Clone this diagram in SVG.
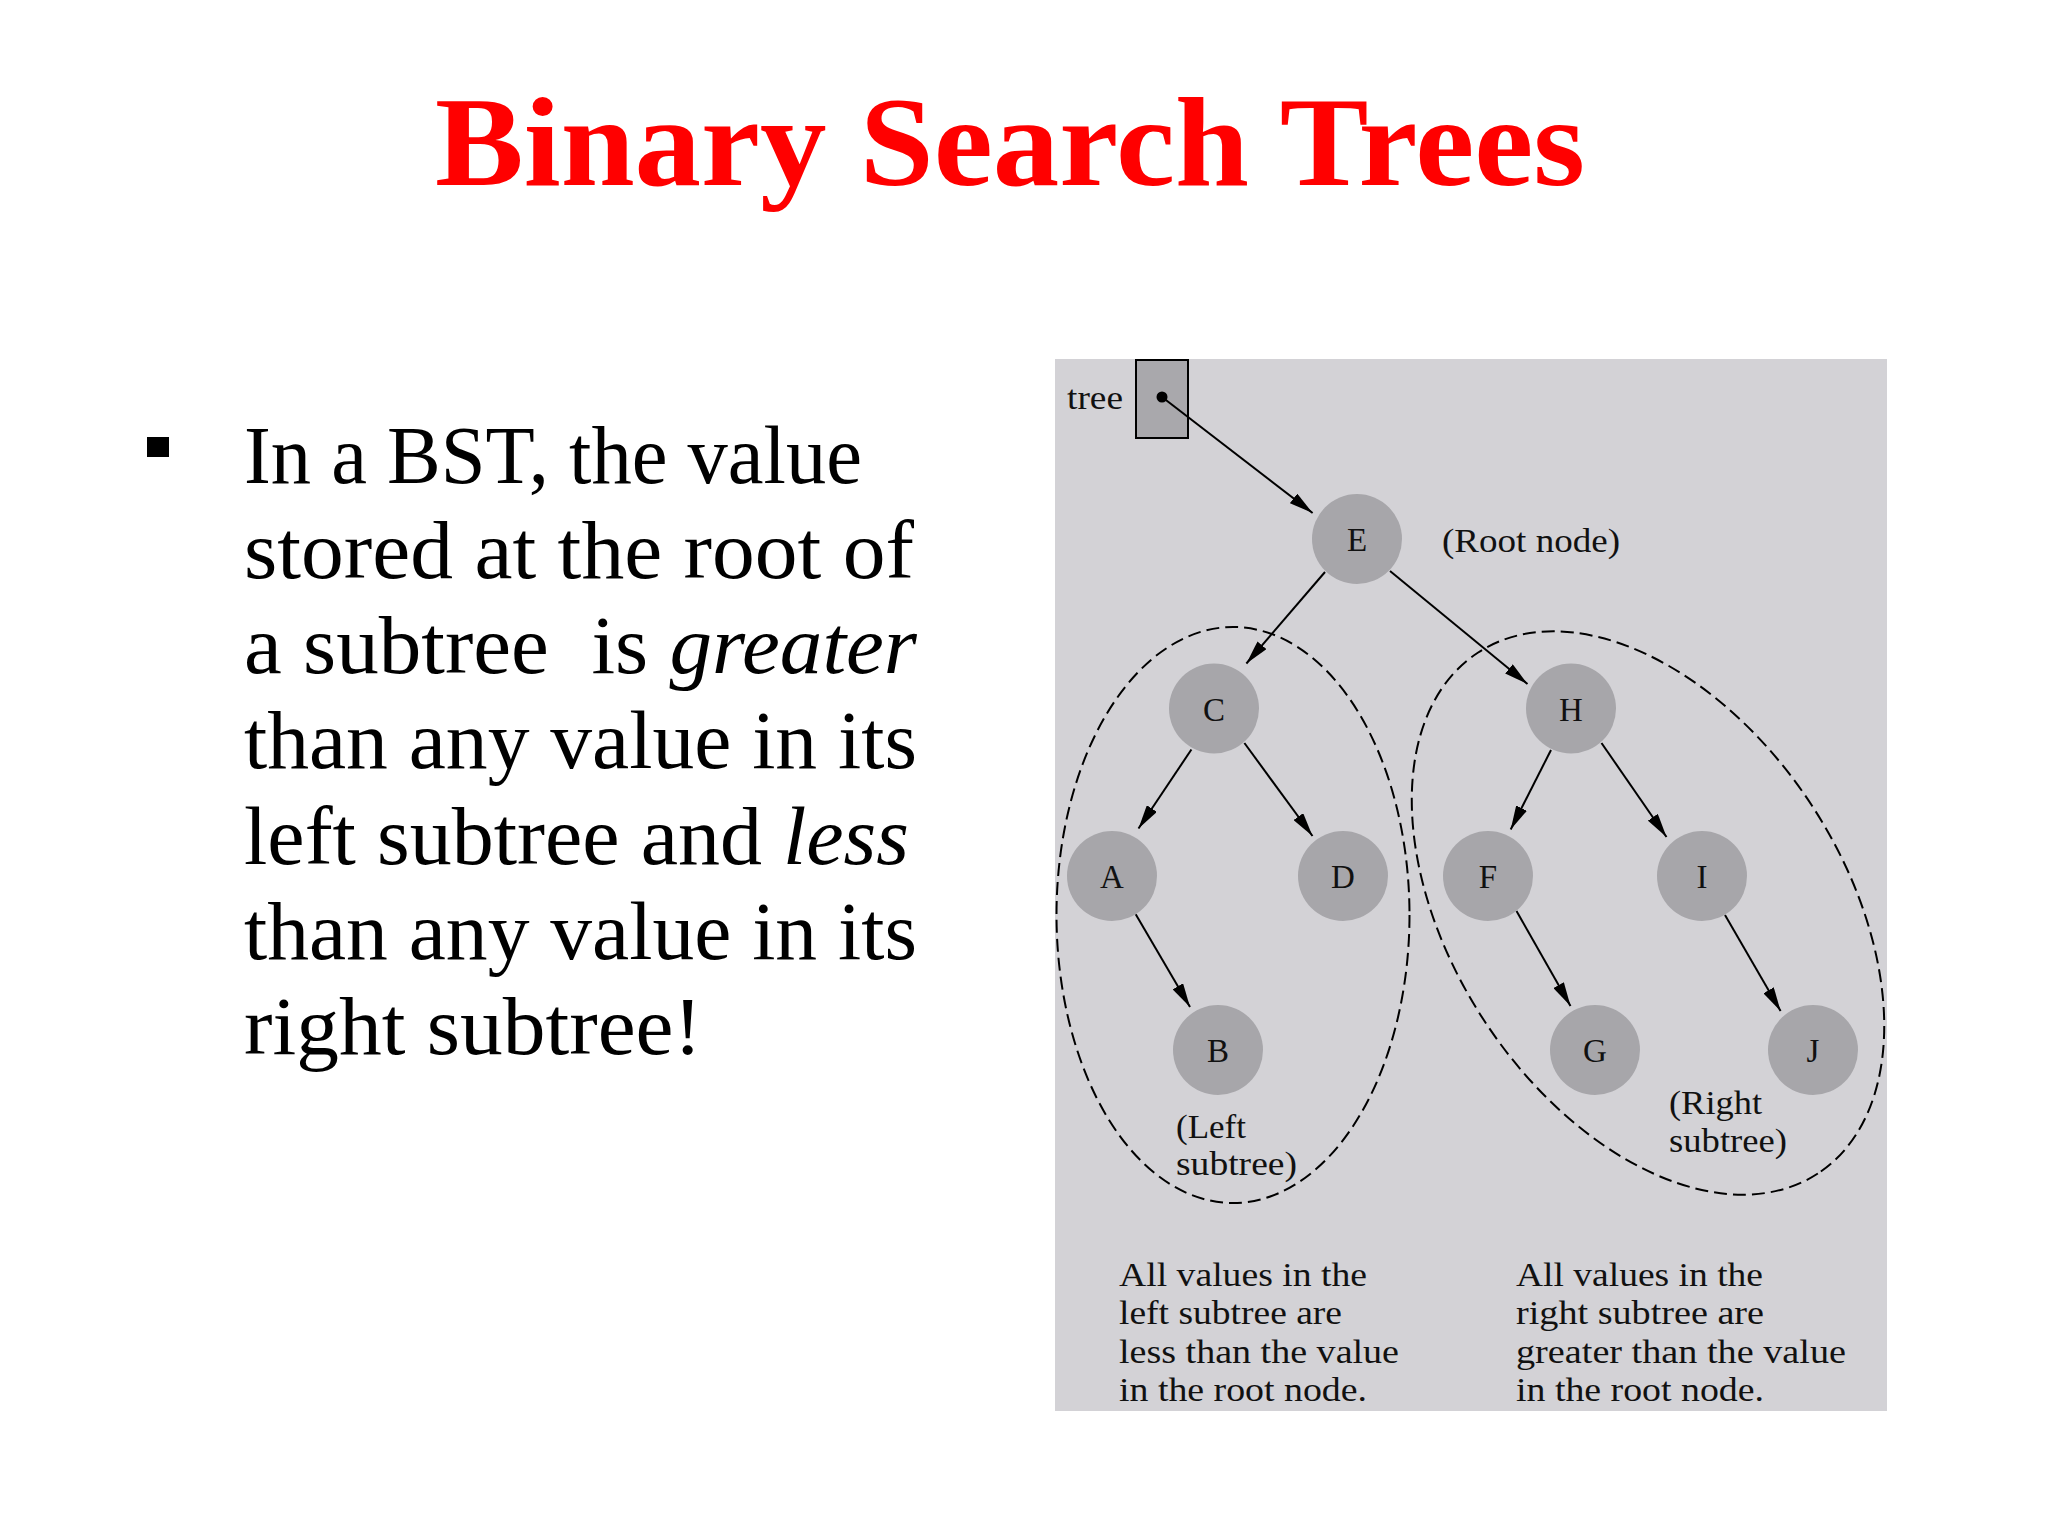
<svg xmlns="http://www.w3.org/2000/svg" width="2048" height="1536" viewBox="0 0 2048 1536">
<style>
.title{font-family:"Liberation Serif",serif;font-weight:bold;font-size:128px;fill:#ff0000}
.body{font-family:"Liberation Serif",serif;font-size:82px;fill:#000}
.lbl{font-family:"Liberation Serif",serif;font-size:34px;fill:#111}
.nl{font-family:"Liberation Serif",serif;font-size:33px;fill:#111;text-anchor:middle}
.node{fill:#a7a6aa}
.edge{stroke:#000;stroke-width:2;fill:none;marker-end:url(#ah)}
.region{fill:none;stroke:#000;stroke-width:2;stroke-dasharray:13 6}
</style>
<defs>
<marker id="ah" viewBox="0 0 24 12" refX="24" refY="6" markerWidth="24" markerHeight="12" markerUnits="userSpaceOnUse" orient="auto">
<path d="M0,0 L24,6 L0,12 z" fill="#000"/>
</marker>
</defs>
<rect width="2048" height="1536" fill="#ffffff"/>
<text class="title" x="435" y="185" textLength="1150" lengthAdjust="spacingAndGlyphs">Binary Search Trees</text>
<g id="bullet-text">
<rect x="147" y="437" width="22" height="20" fill="#000"/>
<text class="body" x="244" y="483" textLength="618" lengthAdjust="spacingAndGlyphs">In a BST, the value</text>
<text class="body" x="244" y="578" textLength="670" lengthAdjust="spacingAndGlyphs">stored at the root of</text>
<text class="body" x="244" y="673" textLength="673" lengthAdjust="spacingAndGlyphs" xml:space="preserve">a subtree  is <tspan font-style="italic">greater</tspan></text>
<text class="body" x="244" y="768" textLength="673" lengthAdjust="spacingAndGlyphs">than any value in its</text>
<text class="body" x="244" y="864" textLength="665" lengthAdjust="spacingAndGlyphs">left subtree and <tspan font-style="italic">less</tspan></text>
<text class="body" x="244" y="959" textLength="673" lengthAdjust="spacingAndGlyphs">than any value in its</text>
<text class="body" x="244" y="1054" textLength="458" lengthAdjust="spacingAndGlyphs">right subtree!</text>
</g>
<rect id="panel" x="1055" y="359" width="832" height="1052" fill="#d3d2d6"/>
<g id="regions">
<ellipse class="region" cx="1233" cy="915" rx="176.5" ry="288"/>
<ellipse class="region" cx="1648" cy="913" rx="311" ry="196" transform="rotate(56.9 1648 913)"/>
</g>
<g id="tree-pointer">
<rect x="1136" y="360" width="52" height="78" fill="#a9a8ac" stroke="#000" stroke-width="2"/>
<circle cx="1162" cy="397" r="5.5" fill="#000"/>
<text class="lbl" x="1067" y="409" textLength="56" lengthAdjust="spacingAndGlyphs">tree</text>
</g>
<g id="connectors">
<line class="edge" x1="1162" y1="397" x2="1312.6" y2="513"/>
<line class="edge" x1="1325" y1="572" x2="1246.4" y2="663.5"/>
<line class="edge" x1="1390" y1="571" x2="1527.5" y2="684"/>
<line class="edge" x1="1191.4" y1="749.5" x2="1138.5" y2="828.5"/>
<line class="edge" x1="1244.4" y1="743" x2="1312.5" y2="836"/>
<line class="edge" x1="1135.7" y1="914.3" x2="1190" y2="1007"/>
<line class="edge" x1="1551" y1="750" x2="1510.7" y2="829.5"/>
<line class="edge" x1="1601.5" y1="743" x2="1666.5" y2="837"/>
<line class="edge" x1="1516.5" y1="911" x2="1570.5" y2="1006"/>
<line class="edge" x1="1725" y1="915" x2="1780.6" y2="1011"/>
</g>
<g id="node-E"><circle class="node" cx="1357" cy="539" r="45"/><text class="nl" x="1357" y="551">E</text></g>
<g id="node-C"><circle class="node" cx="1214" cy="708.5" r="45"/><text class="nl" x="1214" y="720.5">C</text></g>
<g id="node-H"><circle class="node" cx="1571" cy="708.5" r="45"/><text class="nl" x="1571" y="720.5">H</text></g>
<g id="node-A"><circle class="node" cx="1112" cy="876" r="45"/><text class="nl" x="1112" y="888">A</text></g>
<g id="node-D"><circle class="node" cx="1343" cy="876" r="45"/><text class="nl" x="1343" y="888">D</text></g>
<g id="node-F"><circle class="node" cx="1488" cy="876" r="45"/><text class="nl" x="1488" y="888">F</text></g>
<g id="node-I"><circle class="node" cx="1702" cy="876" r="45"/><text class="nl" x="1702" y="888">I</text></g>
<g id="node-B"><circle class="node" cx="1218" cy="1050" r="45"/><text class="nl" x="1218" y="1062">B</text></g>
<g id="node-G"><circle class="node" cx="1595" cy="1050" r="45"/><text class="nl" x="1595" y="1062">G</text></g>
<g id="node-J"><circle class="node" cx="1813" cy="1050" r="45"/><text class="nl" x="1813" y="1062">J</text></g>
<g id="labels">
<text class="lbl" x="1442" y="552" textLength="178" lengthAdjust="spacingAndGlyphs">(Root node)</text>
<text class="lbl" x="1176" y="1138" textLength="70" lengthAdjust="spacingAndGlyphs">(Left</text>
<text class="lbl" x="1176" y="1175" textLength="121" lengthAdjust="spacingAndGlyphs">subtree)</text>
<text class="lbl" x="1669" y="1114" textLength="93" lengthAdjust="spacingAndGlyphs">(Right</text>
<text class="lbl" x="1669" y="1152" textLength="118" lengthAdjust="spacingAndGlyphs">subtree)</text>
<text class="lbl" x="1119" y="1286" textLength="248" lengthAdjust="spacingAndGlyphs">All values in the</text>
<text class="lbl" x="1119" y="1324" textLength="223" lengthAdjust="spacingAndGlyphs">left subtree are</text>
<text class="lbl" x="1119" y="1363" textLength="280" lengthAdjust="spacingAndGlyphs">less than the value</text>
<text class="lbl" x="1119" y="1401" textLength="248" lengthAdjust="spacingAndGlyphs">in the root node.</text>
<text class="lbl" x="1516" y="1286" textLength="247" lengthAdjust="spacingAndGlyphs">All values in the</text>
<text class="lbl" x="1516" y="1324" textLength="248" lengthAdjust="spacingAndGlyphs">right subtree are</text>
<text class="lbl" x="1516" y="1363" textLength="330" lengthAdjust="spacingAndGlyphs">greater than the value</text>
<text class="lbl" x="1516" y="1401" textLength="248" lengthAdjust="spacingAndGlyphs">in the root node.</text>
</g>
</svg>
